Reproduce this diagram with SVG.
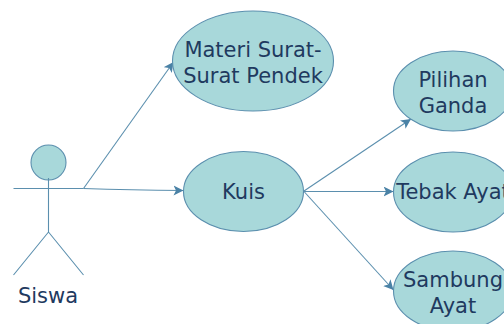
<svg xmlns="http://www.w3.org/2000/svg" width="504" height="324" viewBox="0 0 504 324">
<style>
.n{fill:#a8d8da;stroke:#5b8fae;stroke-width:1.1}
.l{fill:none;stroke:#5b8fae;stroke-width:1.1}
.c{fill:none;stroke:#5b8fae;stroke-width:1.1;marker-end:url(#a)}
text{font-family:"DejaVu Sans",Verdana,sans-serif;font-size:21px;fill:#1f3a5f;text-anchor:middle}
</style>
<defs><marker id="a" markerUnits="userSpaceOnUse" markerWidth="12" markerHeight="12" refX="10" refY="5" orient="auto"><path d="M0 0L10 5L0 10L2.5 5Z" fill="#4a82a6"/></marker></defs>
<rect width="504" height="324" fill="#fff"/>
<g id="connectors">
<path class="c" d="M83.500 188.500L173.500 62"/>
<path class="c" d="M83.500 188.500Q130 190 183.500 190.500"/>
<path class="c" d="M304 191L411 119"/>
<path class="c" d="M304 191.500H393.500"/>
<path class="c" d="M304 191.500L393.500 290"/>
</g>
<g id="siswa">
<circle class="n" cx="48.500" cy="162.500" r="17.500"/>
<path class="l" d="M48.500 178V232M13.500 188.500H83.500M13.500 275L48.500 232L83.500 275"/>
<text x="48" y="303">Siswa</text>
</g>
<g id="materi"><ellipse class="n" cx="253" cy="61" rx="80.500" ry="50"/><text x="253" y="57">Materi Surat-</text><text x="253" y="83">Surat Pendek</text></g>
<g id="kuis"><ellipse class="n" cx="243.500" cy="191.500" rx="60" ry="40"/><text x="243.500" y="199">Kuis</text></g>
<g id="pilihan"><ellipse class="n" cx="453" cy="91" rx="59.500" ry="40"/><text x="453" y="87">Pilihan</text><text x="453" y="113">Ganda</text></g>
<g id="tebak"><ellipse class="n" cx="453" cy="192" rx="59.500" ry="40"/><text x="453" y="199">Tebak Ayat</text></g>
<g id="sambung"><ellipse class="n" cx="453" cy="291" rx="59.500" ry="40"/><text x="453" y="287">Sambung</text><text x="453" y="313">Ayat</text></g>
</svg>
